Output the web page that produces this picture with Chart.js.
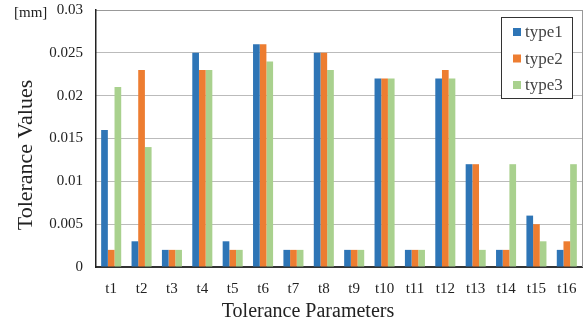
<!DOCTYPE html>
<html>
<head>
<meta charset="utf-8">
<script src="https://cdn.jsdelivr.net/npm/chart.js@4.4.1/dist/chart.umd.min.js"></script>
<style>
  html, body { margin: 0; padding: 0; background: #fff; }
  #wrap { width: 587px; height: 327px; }
</style>
</head>
<body>
<div id="wrap"><canvas id="tolChart" width="587" height="327"></canvas></div>
<script>
const labels = ['t1','t2','t3','t4','t5','t6','t7','t8','t9','t10','t11','t12','t13','t14','t15','t16'];
const type1 = [0.016, 0.003, 0.002, 0.025, 0.003, 0.026, 0.002, 0.025, 0.002, 0.022, 0.002, 0.022, 0.012, 0.002, 0.006, 0.002];
const type2 = [0.002, 0.023, 0.002, 0.023, 0.002, 0.026, 0.002, 0.025, 0.002, 0.022, 0.002, 0.023, 0.012, 0.002, 0.005, 0.003];
const type3 = [0.021, 0.014, 0.002, 0.023, 0.002, 0.024, 0.002, 0.023, 0.002, 0.022, 0.002, 0.022, 0.002, 0.012, 0.003, 0.012];
const yTicks = [0, 0.005, 0.01, 0.015, 0.02, 0.025, 0.03];

const serif = "'Liberation Serif', 'Times New Roman', serif";

// legend box, unit label, axis titles, right border
const extras = {
    id: 'extras',
    afterDraw(chart) {
        const c = chart.ctx;
        const area = chart.chartArea;
        c.save();
        c.strokeStyle = '#999';
        c.lineWidth = 1;
        c.beginPath();
        c.moveTo(area.right + 0.5, area.top);
        c.lineTo(area.right + 0.5, area.bottom);
        c.stroke();

        c.fillStyle = '#222';
        c.textBaseline = 'middle';
        c.textAlign = 'left';
        c.font = '15px ' + serif;
        c.fillText('[mm]', 14, 13);

        // axis titles
        c.textAlign = 'center';
        c.font = '22px ' + serif;
        c.save();
        c.translate(26, 155);
        c.rotate(-Math.PI / 2);
        c.fillText('Tolerance Values', 0, 0);
        c.restore();
        c.font = '20px ' + serif;
        c.fillText('Tolerance Parameters', 308, 312);

        // legend
        const bx = 501, by = 17, bw = 71, bh = 81;
        c.textAlign = 'left';
        c.fillStyle = '#fff';
        c.fillRect(bx, by, bw, bh);
        c.strokeStyle = '#333';
        c.lineWidth = 1;
        c.strokeRect(bx + 0.5, by + 0.5, bw, bh);
        c.font = '17px ' + serif;
        chart.data.datasets.forEach((ds, i) => {
            const y = by + 15 + i * 26.5;
            c.fillStyle = ds.backgroundColor;
            c.fillRect(bx + 12, y - 4, 8, 8);
            c.fillStyle = '#444';
            c.fillText(ds.label, bx + 24, y + 1);
        });
        c.restore();
    }
};

const ctx = document.getElementById('tolChart').getContext('2d');
const tolChart = new Chart(ctx, {
    type: 'bar',
    data: {
        labels: labels,
        datasets: [
            { label: 'type1', data: type1, backgroundColor: '#2E75B6' },
            { label: 'type2', data: type2, backgroundColor: '#ED7D31' },
            { label: 'type3', data: type3, backgroundColor: '#A9D18E' }
        ]
    },
    options: {
        responsive: false,
        animation: false,
        layout: { padding: { top: 10, right: 5, left: 0, bottom: 0 } },
        datasets: {
            bar: { categoryPercentage: 0.66, barPercentage: 1.0, borderWidth: 0 }
        },
        scales: {
            x: {
                grid: { display: false },
                border: { display: true, color: '#333', width: 2 },
                ticks: { color: '#222', font: { family: serif, size: 15 }, padding: 5, maxRotation: 0, autoSkip: false },
                afterFit: (s) => { s.height = 60; s.paddingLeft = 0; s.paddingRight = 0; }
            },
            y: {
                min: 0,
                max: 0.03,
                afterBuildTicks: (s) => { s.ticks = yTicks.map(v => ({ value: v })); },
                grid: {
                    color: (c) => (c.tick && c.tick.value === 0.03) ? '#333' : '#777',
                    lineWidth: 1,
                    drawTicks: false
                },
                border: { display: true, color: '#222', width: 1.5, dash: [1, 1] },
                ticks: {
                    color: '#222',
                    font: { family: serif, size: 15 },
                    padding: 13,
                    callback: (v) => String(Number(v.toFixed(3)))
                },
                afterFit: (s) => { s.width = 96; s.paddingTop = 0; s.paddingBottom = 0; }
            }
        },
        plugins: {
            legend: { display: false },
            tooltip: { enabled: false }
        }
    },
    plugins: [extras]
});
</script>
</body>
</html>
